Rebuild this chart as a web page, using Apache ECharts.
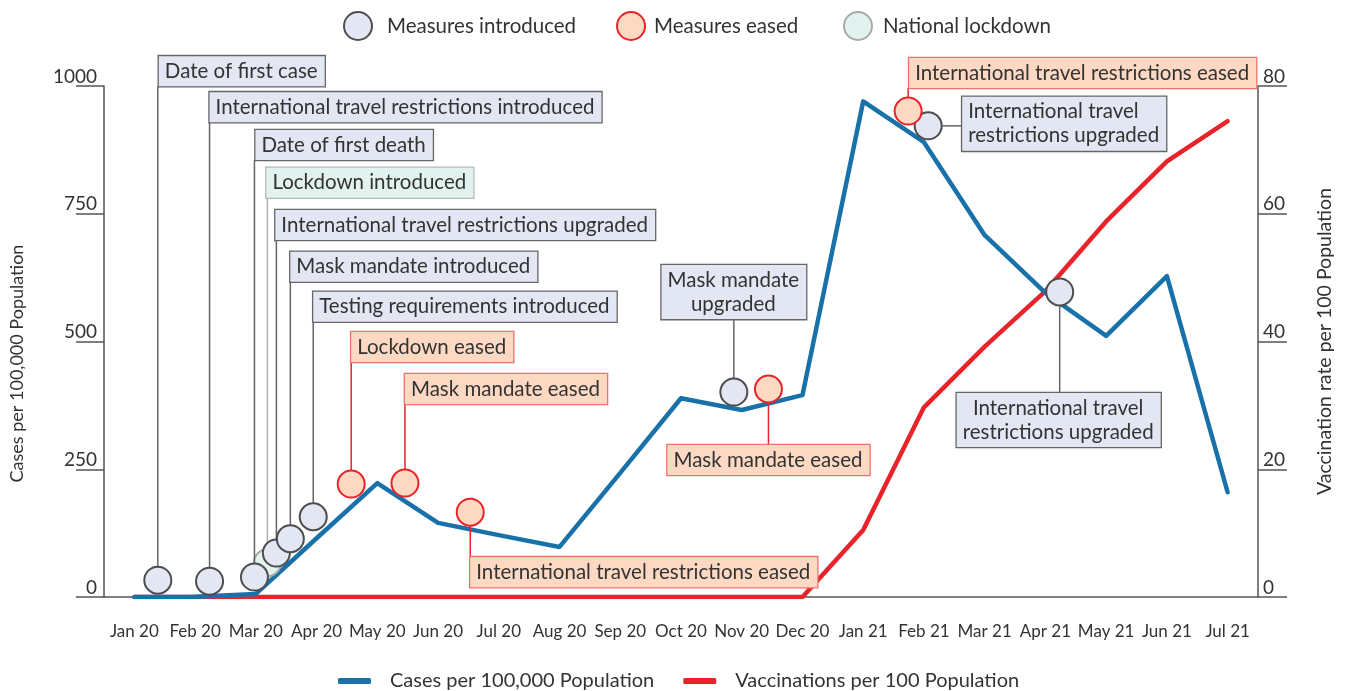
<!DOCTYPE html>
<html>
<head>
<meta charset="utf-8">
<title>Cases and vaccinations with measures</title>
<script src="https://cdn.jsdelivr.net/npm/echarts@6/dist/echarts.min.js"></script>
<style>
html, body { margin: 0; padding: 0; background: #fff; }
#chart { width: 1346px; height: 691px; }
</style>
</head>
<body>
<div id="chart"></div>
<script>
var months = ['Jan 20', 'Feb 20', 'Mar 20', 'Apr 20', 'May 20', 'Jun 20', 'Jul 20', 'Aug 20', 'Sep 20',
  'Oct 20', 'Nov 20', 'Dec 20', 'Jan 21', 'Feb 21', 'Mar 21', 'Apr 21', 'May 21', 'Jun 21', 'Jul 21'];
var cases = [0, 0.5, 6, 115, 223, 145, 121, 98, 243, 389, 366, 395, 970, 890, 708, 595, 511, 628, 205];
var vaccinations = [0, 0, 0, 0, 0, 0, 0, 0, 0, 0, 0, 0, 10.5, 29.7, 39.2, 47.9, 58.8, 68.2, 74.5];

var caseTicks = [0, 250, 500, 750, 1000];
var vaccTicks = [0, 20, 40, 60, 80];

// measures: name, position in months (0 = Jan 20), cases value, kind
var eventNames = [
  'Date of first case',
  'International travel restrictions introduced',
  'Date of first death',
  'Lockdown introduced',
  'International travel restrictions upgraded',
  'Mask mandate introduced',
  'Testing requirements introduced',
  'Lockdown eased',
  'Mask mandate eased',
  'International travel restrictions eased',
  'Mask mandate\nupgraded',
  'Mask mandate eased',
  'International travel restrictions eased',
  'International travel\nrestrictions upgraded',
  'International travel\nrestrictions upgraded'
];
var eventMonth = [0.386, 1.238, 1.977, 2.19, 2.338, 2.568, 2.945, 3.57, 4.455, 5.53, 9.87, 10.44, 12.74, 13.07, 15.235];
var eventCases = [33, 31, 39, 67, 86, 114, 157, 221, 223, 166, 401, 407, 951, 922, 597];
var eventKind = ['intro', 'intro', 'intro', 'lockdown', 'intro', 'intro', 'intro', 'eased', 'eased', 'eased',
  'intro', 'eased', 'eased', 'intro', 'intro'];

var kindNames = { intro: 'Measures introduced', eased: 'Measures eased', lockdown: 'National lockdown' };

// where each label box goes, px from the circle (layout only)
var labelPlace = [
  ['up', 1, -494], ['up', 0, -459], ['up', 1, -417], ['up', -1, -365], ['up', -1, -313],
  ['up', 0, -257], ['up', 0, -195], ['up', 0, -122], ['up', 0, -79], ['down', 0, 45],
  ['upc', 0, -73], ['downc', 0, 56], ['up', 1, -23], ['right', 34, -2], ['downc', -1, 101]
];

var kindStyle = {
  intro: { fill: '#e3e7f3', stroke: '#4d4d4d', box: '#666666', lead: '#666666' },
  eased: { fill: '#fdd9c3', stroke: '#e8242a', box: '#f07270', lead: '#e8242a' },
  lockdown: { fill: '#e2f2ee', stroke: '#a9a9a9', box: '#b8b8b8', lead: '#b0b0b0' }
};

var FONT = 'Lato';
var TEXT = '#333333';
var AXIS = '#555555';

function renderEvent(kind) {
  return function (params, api) {
    var i = api.value(2);
    var pt = api.coord([api.value(0), api.value(1)]);
    var cx = pt[0], cy = pt[1], r = 13.5;
    var st = kindStyle[kind];
    var place = labelPlace[i];
    var mode = place[0];
    var bx = cx + place[1], by = cy + place[2];
    var align = 'left', valign = 'bottom', line;
    if (mode == 'up') {
      line = [cx, cy - r, cx, by];
    } else if (mode == 'upc') {
      align = 'center';
      line = [cx, cy - r, cx, by];
    } else if (mode == 'down') {
      valign = 'top';
      line = [cx, cy + r, cx, by];
    } else if (mode == 'downc') {
      align = 'center'; valign = 'top';
      line = [cx, cy + r, cx, by];
    } else {
      valign = 'middle';
      line = [cx + r, cy, bx, cy];
    }
    return {
      type: 'group',
      children: [{
        type: 'line',
        shape: { x1: line[0], y1: line[1], x2: line[2], y2: line[3] },
        style: { stroke: st.lead, lineWidth: 1.5 }
      }, {
        type: 'text',
        x: bx, y: by,
        style: {
          text: eventNames[i],
          font: '20.5px ' + FONT,
          fill: TEXT,
          align: align,
          verticalAlign: valign,
          lineHeight: 24,
          backgroundColor: st.fill,
          borderColor: st.box,
          borderWidth: 1.3,
          padding: [3, 7, 3, 6]
        }
      }, {
        type: 'circle',
        shape: { cx: cx, cy: cy, r: r },
        style: { fill: st.fill, stroke: st.stroke, lineWidth: 2 }
      }]
    };
  };
}

function eventData(kind) {
  var out = [];
  for (var i = 0; i < eventNames.length; i++) {
    if (eventKind[i] == kind) out.push([eventMonth[i], eventCases[i], i]);
  }
  return out;
}

// one legend per measure kind so each sits where the original puts it
function kindLegend(kind, left, textGap) {
  var st = kindStyle[kind];
  return {
    left: left, top: 6,
    selectedMode: false,
    itemWidth: 28, itemHeight: 28,
    textStyle: { fontFamily: FONT, fontSize: 20.5, color: TEXT, padding: [0, 0, 0, textGap] },
    data: [{ name: kindNames[kind], icon: 'circle', itemStyle: { color: st.fill, borderColor: st.stroke, borderWidth: 2 } }]
  };
}

var chart = echarts.init(document.getElementById('chart'));
chart.setOption({
  animation: false,
  textStyle: { fontFamily: FONT, color: TEXT },
  grid: { left: 100, right: 88, top: 86, bottom: 94 },
  legend: [
    kindLegend('intro', 338, 10),
    kindLegend('eased', 611, 4),
    kindLegend('lockdown', 838, 6),
    {
      left: 333, top: 666,
      selectedMode: false,
      itemWidth: 33, itemHeight: 6, itemGap: 29,
      icon: 'roundRect',
      textStyle: { fontFamily: FONT, fontSize: 20, color: TEXT, padding: [0, 0, 0, 14] },
      data: ['Cases per 100,000 Population', 'Vaccinations per 100 Population']
    }
  ],
  xAxis: [{
    type: 'category',
    data: months,
    boundaryGap: true,
    axisLine: { onZero: false, lineStyle: { color: AXIS, width: 1.5 } },
    axisTick: { length: 12, lineStyle: { color: AXIS, width: 1.5 } },
    axisLabel: { fontFamily: FONT, fontSize: 17, color: TEXT, margin: 26, interval: 0 }
  }, {
    type: 'value',
    min: -0.5, max: 18.5,
    show: false
  }],
  yAxis: [{
    type: 'value',
    min: caseTicks[0], max: caseTicks[caseTicks.length - 1], interval: 250,
    name: 'Cases per 100,000 Population',
    nameLocation: 'middle', nameGap: 78,
    nameTextStyle: { fontFamily: FONT, fontSize: 18, color: TEXT, padding: [0, 44, 0, 0] },
    axisLine: { show: true, onZero: false, lineStyle: { color: AXIS, width: 1.5 } },
    axisTick: { show: true, length: 28, lineStyle: { color: AXIS, width: 1.5 } },
    axisLabel: {
      fontFamily: FONT, fontSize: 19, color: TEXT, margin: 7, verticalAlign: 'bottom', align: 'right',
      formatter: function (v) { return String(v); }
    },
    splitLine: { show: false }
  }, {
    type: 'value',
    position: 'right',
    min: vaccTicks[0], max: vaccTicks[vaccTicks.length - 1], interval: 20,
    name: 'Vaccination rate per 100 Population',
    nameLocation: 'middle', nameGap: 57, nameRotate: 90,
    nameTextStyle: { fontFamily: FONT, fontSize: 19.5, color: TEXT },
    axisLine: { show: true, onZero: false, lineStyle: { color: AXIS, width: 1.5 } },
    axisTick: { show: true, length: 29, lineStyle: { color: AXIS, width: 1.5 } },
    axisLabel: {
      fontFamily: FONT, fontSize: 19, color: TEXT, margin: 5, verticalAlign: 'bottom', align: 'left',
      formatter: function (v) { return String(v); }
    },
    splitLine: { show: false }
  }],
  series: [{
    name: 'Vaccinations per 100 Population',
    type: 'line',
    yAxisIndex: 1,
    data: vaccinations,
    symbol: 'none',
    color: '#e8242a',
    lineStyle: { width: 4.5, cap: 'round', join: 'round' },
    z: 2
  }, {
    name: 'Cases per 100,000 Population',
    type: 'line',
    yAxisIndex: 0,
    data: cases,
    symbol: 'none',
    color: '#1872a9',
    lineStyle: { width: 4.5, cap: 'round', join: 'round' },
    z: 2
  }, {
    name: kindNames.lockdown,
    type: 'custom',
    xAxisIndex: 1, yAxisIndex: 0,
    data: eventData('lockdown'),
    renderItem: renderEvent('lockdown'),
    encode: { x: 0, y: 1 },
    clip: false,
    z: 3
  }, {
    name: kindNames.intro,
    type: 'custom',
    xAxisIndex: 1, yAxisIndex: 0,
    data: eventData('intro'),
    renderItem: renderEvent('intro'),
    encode: { x: 0, y: 1 },
    clip: false,
    z: 4
  }, {
    name: kindNames.eased,
    type: 'custom',
    xAxisIndex: 1, yAxisIndex: 0,
    data: eventData('eased'),
    renderItem: renderEvent('eased'),
    encode: { x: 0, y: 1 },
    clip: false,
    z: 5
  }]
});
</script>
</body>
</html>
